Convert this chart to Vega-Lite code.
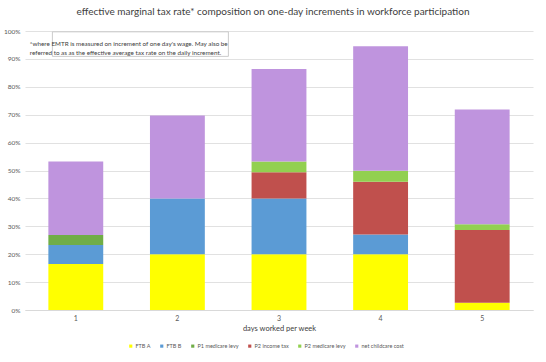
{
  "$schema": "https://vega.github.io/schema/vega-lite/v6.json",
  "width": 508,
  "height": 279,
  "autosize": {"type": "none"},
  "padding": {"left": 25, "top": 31, "right": 13, "bottom": 52},
  "background": "white",
  "title": {
    "text": "effective marginal tax rate* composition on one-day increments in workforce participation",
    "font": "Lato",
    "fontSize": 10,
    "fontWeight": "normal",
    "color": "#404040",
    "anchor": "middle",
    "dx": -6,
    "offset": 11
  },
  "config": {
    "view": {"stroke": null},
    "font": "Lato",
    "axisY": {"tickCount": 10, "labelOverlap": false, "grid": true}
  },
  "data": {
    "values": [
      {"day": "1", "component": "FTB A", "value": 0.165},
      {"day": "1", "component": "FTB B", "value": 0.068},
      {"day": "1", "component": "P1 medicare levy", "value": 0.036},
      {"day": "1", "component": "net childcare cost", "value": 0.263},
      {"day": "2", "component": "FTB A", "value": 0.20},
      {"day": "2", "component": "FTB B", "value": 0.20},
      {"day": "2", "component": "net childcare cost", "value": 0.297},
      {"day": "3", "component": "FTB A", "value": 0.20},
      {"day": "3", "component": "FTB B", "value": 0.20},
      {"day": "3", "component": "P2 income tax", "value": 0.094},
      {"day": "3", "component": "P2 medicare levy", "value": 0.038},
      {"day": "3", "component": "net childcare cost", "value": 0.332},
      {"day": "4", "component": "FTB A", "value": 0.20},
      {"day": "4", "component": "FTB B", "value": 0.071},
      {"day": "4", "component": "P2 income tax", "value": 0.189},
      {"day": "4", "component": "P2 medicare levy", "value": 0.039},
      {"day": "4", "component": "net childcare cost", "value": 0.446},
      {"day": "5", "component": "FTB A", "value": 0.026},
      {"day": "5", "component": "P2 income tax", "value": 0.261},
      {"day": "5", "component": "P2 medicare levy", "value": 0.020},
      {"day": "5", "component": "net childcare cost", "value": 0.412}
    ]
  },
  "layer": [
    {
      "mark": {"type": "bar"},
      "encoding": {
        "x": {
          "field": "day",
          "type": "nominal",
          "scale": {"paddingInner": 0.46, "paddingOuter": 0.23},
          "axis": {
            "title": "days worked per week",
            "titleFont": "Lato",
            "titleFontSize": 7.5,
            "titleFontWeight": "normal",
            "titleColor": "#404040",
            "titlePadding": 3,
            "labelAngle": 0,
            "labelFontSize": 7,
            "labelColor": "#595959",
            "labelPadding": 4,
            "ticks": false,
            "domainColor": "#D9D9D9"
          }
        },
        "y": {
          "field": "value",
          "type": "quantitative",
          "stack": "zero",
          "scale": {"domain": [0, 1], "nice": false},
          "axis": {
            "title": null,
            "format": ".0%",
            "tickCount": 10,
            "grid": true,
            "labelOverlap": false,
            "labelFontSize": 6.5,
            "labelColor": "#595959",
            "labelPadding": 5,
            "ticks": false,
            "domain": false,
            "gridColor": "#D9D9D9",
            "gridWidth": 0.8
          }
        },
        "order": {"field": "component", "sort": "ascending"},
        "color": {
          "field": "component",
          "type": "nominal",
          "scale": {
            "domain": ["FTB A", "FTB B", "P1 medicare levy", "P2 income tax", "P2 medicare levy", "net childcare cost"],
            "range": ["#FFFF00", "#5B9BD5", "#70AD47", "#C0504D", "#92D050", "#BF94DE"]
          },
          "legend": {
            "title": null,
            "orient": "none",
            "legendX": 103,
            "legendY": 312,
            "direction": "horizontal",
            "symbolType": "square",
            "symbolSize": 10,
            "symbolStrokeWidth": 0,
            "labelFontSize": 5.5,
            "labelColor": "#595959",
            "labelOffset": 2,
            "columnPadding": 8
          }
        }
      }
    },
    {
      "data": {"values": [{}]},
      "mark": {"type": "rect", "fill": "white", "stroke": "#BFBFBF", "strokeWidth": 0.8, "xOffset": -23.4, "x2Offset": 51},
      "encoding": {
        "x": {"datum": "1", "type": "nominal"},
        "x2": {"datum": "2"},
        "y": {"datum": 0.997, "type": "quantitative"},
        "y2": {"datum": 0.909}
      }
    },
    {
      "data": {"values": [{}]},
      "mark": {"type": "text", "align": "left", "baseline": "middle", "fontSize": 6.3, "color": "#404040", "lineHeight": 9, "dx": -18.5,
        "text": ["*where EMTR is measured on increment of one day's wage. May also be", "referred to as as the effective average tax rate on the daily increment."]},
      "encoding": {
        "x": {"datum": "1", "type": "nominal", "bandPosition": 0},
        "y": {"datum": 0.953, "type": "quantitative"}
      }
    }
  ]
}
